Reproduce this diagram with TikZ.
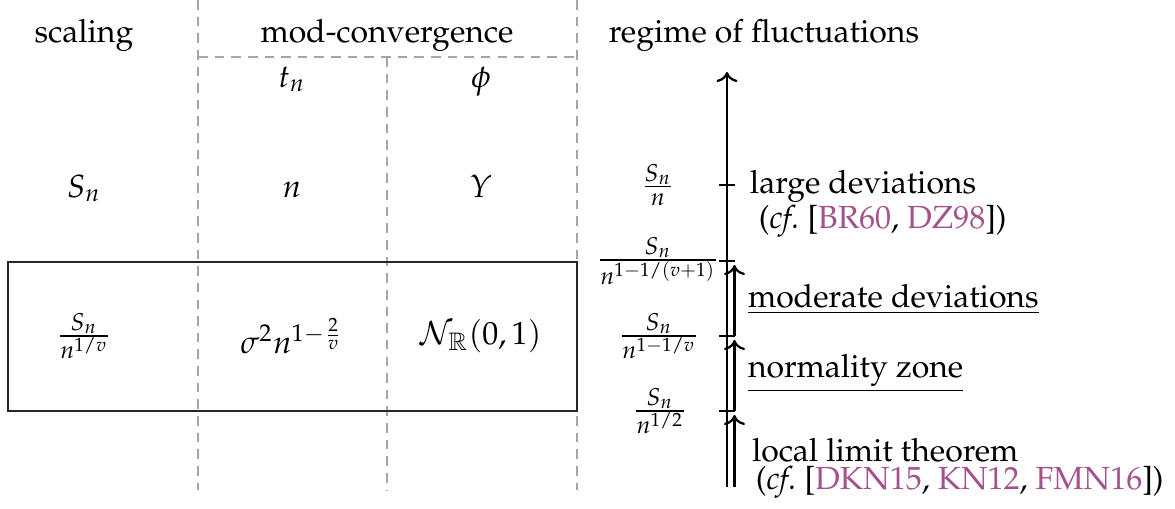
\documentclass[tikz,border=0pt]{standalone}
\usepackage[T1]{fontenc}
\usepackage[noBBpl]{mathpazo}
\usepackage{amssymb}
\usetikzlibrary{arrows.meta}
\definecolor{citec}{RGB}{164,82,140}
\definecolor{dashgray}{RGB}{165,165,165}
\tikzset{
  gridline/.style={draw=dashgray, line width=0.45pt, dash pattern=on 3pt off 2.2pt},
  boxline/.style={draw=black!85, line width=0.45pt},
  axisline/.style={draw=black, line width=0.7pt},
  lbl/.style={inner sep=0pt, outer sep=0pt, font=\normalsize},
}
\newcommand{\cit}[1]{\textcolor{citec}{#1}}
\begin{document}
\begin{tikzpicture}[x=0.3125pt, y=-0.3125pt]
\useasboundingbox (0,0) rectangle (1175,508);
% grid coordinates
\coordinate (a1t) at (198,0);   \coordinate (a1b) at (198,490);
\coordinate (a2t) at (387,57);  \coordinate (a2b) at (387,490);
\coordinate (a3t) at (577,0);   \coordinate (a3b) at (577,490);
\coordinate (hl) at (198,57);   \coordinate (hr) at (577,57);
\coordinate (bx1) at (8,262);   \coordinate (bx2) at (577,411);
% dashed grid
\draw[gridline] (a1t) -- (a1b);
\draw[gridline] (a2t) -- (a2b);
\draw[gridline] (a3t) -- (a3b);
\draw[gridline] (hl) -- (hr);
% box
\draw[boxline] (bx1) rectangle (bx2);
% headers
\node[lbl, anchor=base] (hscal) at (84,42) {scaling};
\node[lbl, anchor=base] (hmod) at (387,42) {mod-convergence};
\node[lbl, anchor=base] (hreg) at (764,42) {regime of fluctuations};
\node[lbl, anchor=base] (htn) at (292,87) {$t_n$};
\node[lbl, anchor=base] (hphi) at (481,87) {$\phi$};
% row 2
\node[lbl, anchor=base] (s1) at (84,197) {$S_n$};
\node[lbl, anchor=base] (s2) at (292,197) {$n$};
\node[lbl, anchor=base] (s3) at (481,197) {$Y$};
% row 3
\node[lbl] (g1) at (84,336) {$\frac{S_n}{n^{1/v}}$};
\node[lbl] (g2) at (292,336) {$\sigma^2 n^{1-\frac{2}{v}}$};
\node[lbl] (g3) at (481,336) {$\mathcal{N}_{\mathbb{R}}(0,1)$};
% axis
\coordinate (axb) at (727,487);
\coordinate (axt) at (727,72);
\draw[axisline,->] (axb) -- (axt);
\foreach \yy/\nm in {185/k1,261/k2,336/k3,411/k4}{
  \coordinate (\nm l) at (719,\yy);
  \coordinate (\nm r) at (735,\yy);
  \draw[axisline] (\nm l) -- (\nm r);
}
% right parallel arrows
\coordinate (p1t) at (734.5,265); \coordinate (p1b) at (734.5,336);
\coordinate (p2t) at (734.5,340); \coordinate (p2b) at (734.5,411);
\coordinate (p3t) at (734.5,415); \coordinate (p3b) at (734.5,487);
\draw[axisline,->] (p1b) -- (p1t);
\draw[axisline,->] (p2b) -- (p2t);
\draw[axisline,->] (p3b) -- (p3t);
% left fraction labels
\node[lbl] (f1) at (658,185) {$\frac{S_n}{n}$};
\node[lbl] (f2) at (658,261) {$\frac{S_n}{n^{1-1/(v+1)}}$};
\node[lbl] (f3) at (659,336) {$\frac{S_n}{n^{1-1/v}}$};
\node[lbl] (f4) at (660,411) {$\frac{S_n}{n^{1/2}}$};
% right text labels
\node[lbl, anchor=base west] (r1) at (750,193) {large deviations};
\node[lbl, anchor=base west] (r1c) at (759,228) {(\emph{cf.}~[\cit{BR60}, \cit{DZ98}])};
\node[lbl, anchor=base west] (r2) at (748,307) {\underline{moderate deviations}};
\node[lbl, anchor=base west] (r3) at (748,377) {\underline{normality zone}};
\node[lbl, anchor=base west] (r4) at (752,461) {local limit theorem};
\node[lbl, anchor=base west] (r4c) at (756,489) {(\emph{cf.}~[\cit{DKN15}, \cit{KN12}, \cit{FMN16}])};
\end{tikzpicture}
\end{document}
